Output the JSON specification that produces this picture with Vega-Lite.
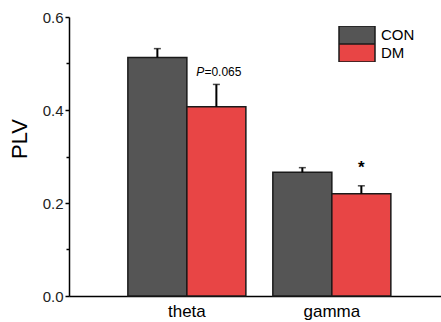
{
  "$schema": "https://vega.github.io/schema/vega-lite/v6.json",
  "width": 372,
  "height": 279,
  "autosize": {"type": "none"},
  "padding": {"left": 69, "top": 17, "right": 0, "bottom": 26},
  "background": "white",
  "config": {
    "view": {"stroke": null},
    "font": "Liberation Sans"
  },
  "datasets": {
    "bars": [
      {"band": "theta", "group": "CON", "mean": 0.513, "upper": 0.532},
      {"band": "theta", "group": "DM", "mean": 0.407, "upper": 0.455},
      {"band": "gamma", "group": "CON", "mean": 0.266, "upper": 0.276},
      {"band": "gamma", "group": "DM", "mean": 0.220, "upper": 0.237}
    ],
    "notes": [
      {"band": "theta", "group": "DM", "pos": 0.482, "italic": "P", "rest": "=0.065"}
    ],
    "stars": [
      {"band": "gamma", "group": "DM", "pos": 0.275, "mark": "*"}
    ]
  },
  "encoding": {
    "x": {
      "field": "band",
      "type": "nominal",
      "sort": ["theta", "gamma"],
      "scale": {"paddingInner": 0.186, "paddingOuter": 0.376, "align": 0.54},
      "axis": {
        "title": null,
        "labelAngle": 0,
        "labelFontSize": 17,
        "labelColor": "black",
        "labelPadding": 7,
        "ticks": false,
        "domainColor": "black",
        "domainWidth": 1.5
      }
    },
    "xOffset": {
      "field": "group",
      "type": "nominal",
      "sort": ["CON", "DM"],
      "scale": {"paddingInner": 0, "paddingOuter": 0}
    }
  },
  "layer": [
    {
      "data": {"name": "bars"},
      "mark": {"type": "bar", "stroke": "#1a1a1a", "strokeWidth": 1.5},
      "encoding": {
        "y": {
          "field": "mean",
          "type": "quantitative",
          "scale": {"domain": [0, 0.6], "nice": false},
          "axis": {
            "title": "PLV",
            "titleFontSize": 22,
            "titleFontWeight": "normal",
            "titleColor": "black",
            "titlePadding": 11,
            "titleY": 121.5,
            "values": [0, 0.1, 0.2, 0.3, 0.4, 0.5, 0.6],
            "labelExpr": "round(datum.value*10) % 2 == 0 ? format(datum.value, '.1f') : ''",
            "labelFontSize": 15,
            "labelColor": "#222222",
            "labelPadding": 2,
            "grid": false,
            "tickColor": "black",
            "tickWidth": 1.5,
            "tickSize": {"condition": {"test": "round(datum.value*10) % 2 == 1", "value": 3}, "value": 4},
            "domainColor": "black",
            "domainWidth": 1.5
          }
        },
        "color": {
          "field": "group",
          "type": "nominal",
          "sort": ["CON", "DM"],
          "scale": {"domain": ["CON", "DM"], "range": ["#555555", "#e84545"]},
          "legend": {
            "title": null,
            "orient": "none",
            "legendX": 269,
            "legendY": 9,
            "padding": 0,
            "symbolType": "M-1,-0.5H1V0.5H-1Z",
            "symbolSize": 1296,
            "symbolStrokeColor": "#1a1a1a",
            "symbolStrokeWidth": 1.5,
            "symbolOpacity": 1,
            "clipHeight": 18,
            "rowPadding": 0,
            "labelFontSize": 15,
            "labelColor": "black",
            "labelOffset": 5
          }
        }
      }
    },
    {
      "data": {"name": "bars"},
      "mark": {"type": "rule", "color": "black", "strokeWidth": 2},
      "encoding": {
        "y": {"field": "mean", "type": "quantitative"},
        "y2": {"field": "upper"}
      }
    },
    {
      "data": {"name": "bars"},
      "mark": {"type": "tick", "color": "black", "size": 7, "thickness": 1.5, "orient": "horizontal"},
      "encoding": {
        "y": {"field": "upper", "type": "quantitative"}
      }
    },
    {
      "data": {"name": "notes"},
      "mark": {"type": "text", "fontSize": 12, "fontStyle": "italic", "align": "right", "baseline": "middle", "dx": -12, "color": "black"},
      "encoding": {
        "y": {"field": "pos", "type": "quantitative"},
        "text": {"field": "italic"}
      }
    },
    {
      "data": {"name": "notes"},
      "mark": {"type": "text", "fontSize": 12, "align": "left", "baseline": "middle", "dx": -12, "color": "black"},
      "encoding": {
        "y": {"field": "pos", "type": "quantitative"},
        "text": {"field": "rest"}
      }
    },
    {
      "data": {"name": "stars"},
      "mark": {"type": "text", "fontSize": 17, "fontWeight": "bold", "align": "center", "baseline": "middle", "color": "black"},
      "encoding": {
        "y": {"field": "pos", "type": "quantitative"},
        "text": {"field": "mark"}
      }
    }
  ]
}
